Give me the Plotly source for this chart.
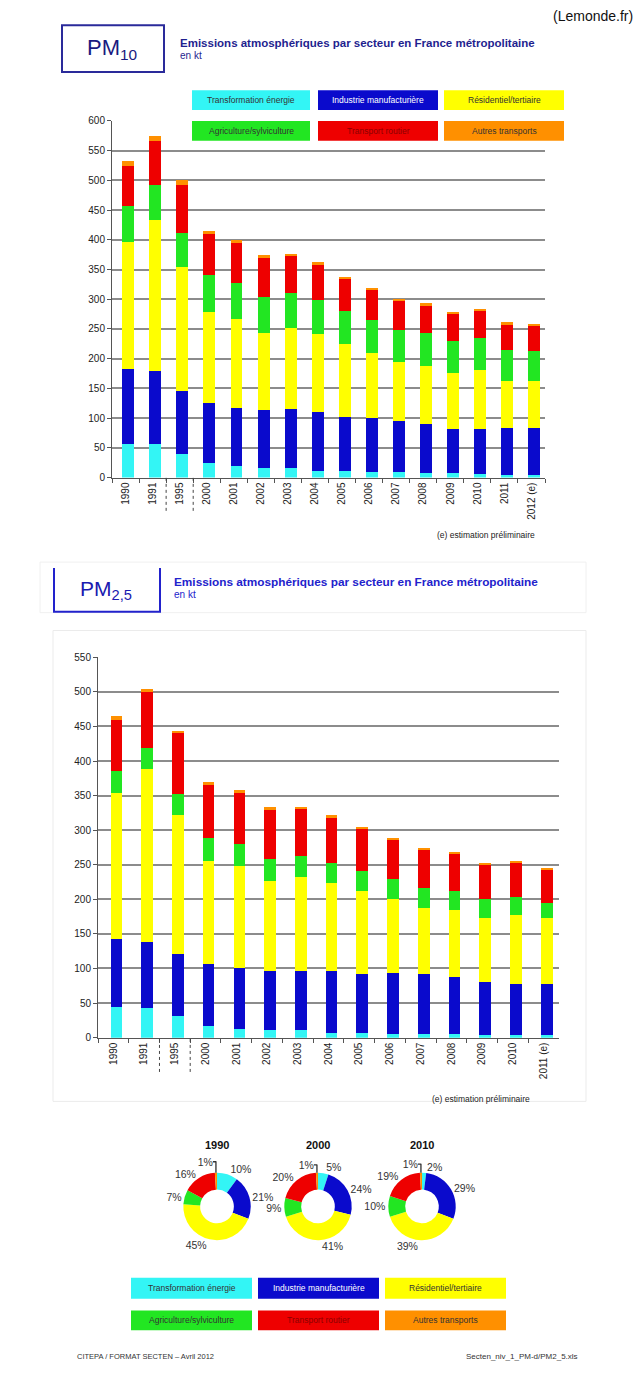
import plotly.graph_objects as go

# ---------------- DATA ----------------
sectors = ["Transformation énergie", "Industrie manufacturière", "Résidentiel/tertiaire",
           "Agriculture/sylviculture", "Transport routier", "Autres transports"]
colors = ["#33F5F5", "#0A0ACC", "#FFFF00", "#22E622", "#EE0000", "#FF9000"]
legend_text_colors = ["#333333", "#FFFFFF", "#333333", "#333333", "#8B0000", "#333333"]

years10 = ["1990", "1991", "1995", "2000", "2001", "2002", "2003", "2004", "2005",
           "2006", "2007", "2008", "2009", "2010", "2011", "2012 (e)"]
pm10_energie = [57, 57, 40, 24, 19, 16, 16, 11, 11, 10, 9, 7, 7, 6, 5, 5]
pm10_industrie = [125, 122, 106, 101, 98, 97, 100, 99, 91, 91, 86, 83, 74, 75, 79, 79]
pm10_residentiel = [215, 254, 208, 154, 150, 131, 136, 131, 122, 108, 100, 98, 95, 100, 78, 78]
pm10_agriculture = [60, 60, 58, 61, 60, 60, 58, 58, 57, 56, 53, 56, 54, 54, 52, 51]
pm10_routier = [68, 74, 80, 70, 68, 66, 63, 59, 53, 50, 49, 46, 46, 46, 44, 43]
pm10_autres = [8, 8, 8, 5, 5, 4, 4, 4, 4, 4, 4, 3, 3, 3, 3, 3]

years25 = ["1990", "1991", "1995", "2000", "2001", "2002", "2003", "2004", "2005",
           "2006", "2007", "2008", "2009", "2010", "2011 (e)"]
pm25_energie = [45, 43, 31, 17, 13, 11, 11, 7, 6, 5, 5, 5, 4, 4, 4]
pm25_industrie = [98, 96, 90, 89, 88, 86, 86, 89, 86, 89, 87, 83, 76, 74, 73]
pm25_residentiel = [211, 249, 201, 150, 147, 130, 135, 127, 120, 106, 96, 96, 93, 99, 96]
pm25_agriculture = [31, 31, 31, 33, 32, 31, 30, 29, 29, 29, 28, 28, 27, 26, 21]
pm25_routier = [75, 81, 87, 76, 74, 71, 68, 66, 61, 57, 55, 53, 49, 49, 48]
pm25_autres = [5, 4, 4, 4, 4, 4, 4, 4, 3, 3, 3, 3, 3, 3, 3]

pie_years = ["1990", "2000", "2010"]
pie_1990 = [10, 21, 45, 7, 16, 1]
pie_2000 = [5, 24, 41, 9, 20, 1]
pie_2010 = [2, 29, 39, 10, 19, 1]

# ---------------- HELPERS ----------------
W, H = 640, 1378
FONT = "Liberation Sans, Arial, sans-serif"


def px(x):
    return x / W


def py(y):
    return 1 - y / H


fig = go.Figure()

pm10_series = [pm10_energie, pm10_industrie, pm10_residentiel, pm10_agriculture, pm10_routier, pm10_autres]
pm25_series = [pm25_energie, pm25_industrie, pm25_residentiel, pm25_agriculture, pm25_routier, pm25_autres]

for name, col, vals in zip(sectors, colors, pm10_series):
    fig.add_trace(go.Bar(x=years10, y=vals, name=name, marker=dict(color=col, line=dict(width=0)),
                         width=0.44, offset=-0.12, xaxis="x", yaxis="y", showlegend=False))
for name, col, vals in zip(sectors, colors, pm25_series):
    fig.add_trace(go.Bar(x=years25, y=vals, name=name, marker=dict(color=col, line=dict(width=0)),
                         width=0.38, offset=-0.09, xaxis="x2", yaxis="y2", showlegend=False))

pie_doms = [(182, 252), (283, 353), (387, 457)]
for yr, vals, (x0, x1) in zip(pie_years, [pie_1990, pie_2000, pie_2010], pie_doms):
    fig.add_trace(go.Pie(values=vals, labels=sectors, sort=False, direction="clockwise", rotation=0,
                         hole=0.5, marker=dict(colors=colors, line=dict(width=0)),
                         texttemplate="%{value}%", textposition="outside",
                         textfont=dict(size=10.5, color="#333333", family=FONT),
                         domain=dict(x=[px(x0), px(x1)], y=[py(1245), py(1177)]),
                         showlegend=False, name=yr))

shapes = []
annotations = []

# Source top-right
annotations.append(dict(text="(Lemonde.fr)", x=px(635), y=py(10), xref="paper", yref="paper",
                        xanchor="right", yanchor="middle", showarrow=False,
                        font=dict(size=14, color="#111111", family=FONT)))

# PM10 header
shapes.append(dict(type="rect", xref="paper", yref="paper", x0=px(62), x1=px(164), y0=py(66.5), y1=py(19.5),
                   line=dict(color="#2A2A9A", width=2), fillcolor="rgba(0,0,0,0)"))
annotations.append(dict(text="PM<sub>10</sub>", x=px(112), y=py(43), xref="paper", yref="paper",
                        xanchor="center", yanchor="middle", showarrow=False,
                        font=dict(size=22, color="#1A1A80", family=FONT)))
annotations.append(dict(text="<b>Emissions atmosphériques par secteur en France métropolitaine</b>",
                        x=px(178), y=py(37), xref="paper", yref="paper", xanchor="left", yanchor="middle",
                        showarrow=False, font=dict(size=11.5, color="#1F1F8F", family=FONT)))
annotations.append(dict(text="en kt", x=px(178), y=py(50), xref="paper", yref="paper", xanchor="left",
                        yanchor="middle", showarrow=False, font=dict(size=10, color="#1F1F8F", family=FONT)))


def legend_boxes(xs, rows):
    for i, (name, col, tcol) in enumerate(zip(sectors, colors, legend_text_colors)):
        r, c = divmod(i, 3)
        x0, x1 = xs[c]
        y0, y1 = rows[r]
        shapes.append(dict(type="rect", xref="paper", yref="paper", x0=px(x0), x1=px(x1),
                           y0=py(y1), y1=py(y0), line=dict(width=0), fillcolor=col, layer="above"))
        annotations.append(dict(text=name, x=px((x0 + x1) / 2), y=py((y0 + y1) / 2), xref="paper",
                                yref="paper", xanchor="center", yanchor="middle", showarrow=False,
                                font=dict(size=8.5, color=tcol, family=FONT)))


legend_boxes([(192, 310), (318, 438), (444, 564)], [(85, 105), (116, 136)])

# PM10 dashed separators
for xv in [1.5, 2.5]:
    shapes.append(dict(type="line", xref="x", yref="paper", x0=xv, x1=xv, y0=py(476), y1=py(512),
                       line=dict(color="#444444", width=1, dash="dot")))
annotations.append(dict(text="(e) estimation préliminaire", x=px(537), y=py(534), xref="paper", yref="paper",
                        xanchor="right", yanchor="middle", showarrow=False,
                        font=dict(size=8.5, color="#222222", family=FONT)))

# PM2.5 header
shapes.append(dict(type="path", xref="paper", yref="paper",
                   path=f"M {px(54)},{py(567)} L {px(54)},{py(611)} L {px(160)},{py(611)} L {px(160)},{py(567)}",
                   line=dict(color="#2222CC", width=2)))
annotations.append(dict(text="PM<sub>2,5</sub>", x=px(106), y=py(589), xref="paper", yref="paper",
                        xanchor="center", yanchor="middle", showarrow=False,
                        font=dict(size=21, color="#1A1AB0", family=FONT)))
annotations.append(dict(text="<b>Emissions atmosphériques par secteur en France métropolitaine</b>",
                        x=px(172), y=py(581), xref="paper", yref="paper", xanchor="left", yanchor="middle",
                        showarrow=False, font=dict(size=11.8, color="#2222CC", family=FONT)))
annotations.append(dict(text="en kt", x=px(172), y=py(594), xref="paper", yref="paper", xanchor="left",
                        yanchor="middle", showarrow=False, font=dict(size=10, color="#2222CC", family=FONT)))
# faint panels
shapes.append(dict(type="rect", xref="paper", yref="paper", x0=px(40), x1=px(586), y0=py(612), y1=py(561),
                   line=dict(color="#F0F0F0", width=1), fillcolor="rgba(0,0,0,0)", layer="below"))
shapes.append(dict(type="rect", xref="paper", yref="paper", x0=px(53), x1=px(586), y0=py(1105), y1=py(630),
                   line=dict(color="#EBEBEB", width=1), fillcolor="rgba(0,0,0,0)", layer="below"))

for xv in [1.5, 2.5]:
    shapes.append(dict(type="line", xref="x2", yref="paper", x0=xv, x1=xv, y0=py(1042), y1=py(1076),
                       line=dict(color="#444444", width=1, dash="dot")))
annotations.append(dict(text="(e) estimation préliminaire", x=px(532), y=py(1103), xref="paper", yref="paper",
                        xanchor="right", yanchor="middle", showarrow=False,
                        font=dict(size=8.5, color="#222222", family=FONT)))

# Pie titles
for yr, (x0, x1) in zip(pie_years, pie_doms):
    annotations.append(dict(text=f"<b>{yr}</b>", x=px((x0 + x1) / 2), y=py(1149), xref="paper", yref="paper",
                            xanchor="center", yanchor="middle", showarrow=False,
                            font=dict(size=11, color="#111111", family=FONT)))

legend_boxes([(131, 252), (258, 379), (385, 506)], [(1283, 1304), (1316, 1336)])

# Footer
annotations.append(dict(text="CITEPA / FORMAT SECTEN – Avril 2012",
                        x=px(75), y=py(1362), xref="paper", yref="paper", xanchor="left", yanchor="middle",
                        showarrow=False, font=dict(size=7.5, color="#333333", family=FONT)))
annotations.append(dict(text="Secten_niv_1_PM-d/PM2_5.xls", x=px(580), y=py(1362), xref="paper", yref="paper",
                        xanchor="right", yanchor="middle", showarrow=False,
                        font=dict(size=8, color="#333333", family=FONT)))

axis_common = dict(showline=True, linecolor="#555555", linewidth=1, ticks="outside", ticklen=4,
                   tickcolor="#555555", tickfont=dict(size=10, color="#222222", family=FONT))

fig.update_layout(
    width=W, height=H, margin=dict(l=0, r=0, t=0, b=0),
    paper_bgcolor="white", plot_bgcolor="white",
    barmode="stack", bargap=0.5,
    font=dict(family=FONT),
    xaxis=dict(domain=[px(112), px(545)], anchor="y", type="category", tickangle=-90,
               tickson="boundaries", showgrid=False, **axis_common),
    yaxis=dict(domain=[py(475.7), py(116)], anchor="x", range=[0, 600], dtick=50, showgrid=True,
               gridcolor="#8C8C8C", gridwidth=1.5, zeroline=False, **axis_common),
    xaxis2=dict(domain=[px(98), px(559)], anchor="y2", type="category", tickangle=-90,
                tickson="boundaries", showgrid=False, **axis_common),
    yaxis2=dict(domain=[py(1040.7), py(657)], anchor="x2", range=[0, 550], dtick=50, showgrid=True,
                gridcolor="#8C8C8C", gridwidth=1.5, zeroline=False, **axis_common),
    shapes=shapes, annotations=annotations,
)

post = ("var s=document.documentElement.style;s.margin='0';s.padding='0';s.overflow='hidden';s.height='1378px';"
        "var b=document.body.style;b.margin='0';b.padding='0';b.overflow='hidden';b.height='1378px';")
fig.write_html("out.html", config={"displayModeBar": False}, post_script=post)
